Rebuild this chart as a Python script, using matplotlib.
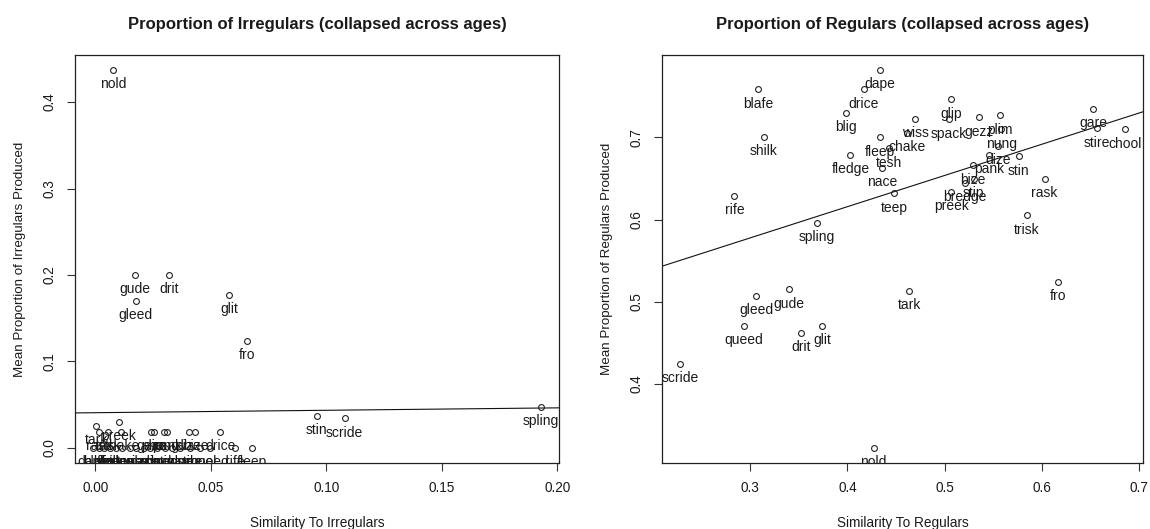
import matplotlib
matplotlib.use("Agg")
import matplotlib.pyplot as plt
from matplotlib.ticker import FormatStrFormatter

plt.rcParams['font.family'] = ['Liberation Sans', 'DejaVu Sans']

# ---------------- data ----------------
words = ["nold", "gude", "drit", "gleed", "glit", "fro", "stin", "scride", "spling",
         "tark", "preek",
         "rask", "trisk", "chake", "gezz", "plim", "nung", "pank", "dize", "bize", "drice",
         "rife", "fleep",
         "dape", "blafe", "blig", "shilk", "fledge", "teep", "tesh", "wiss", "nace",
         "glip", "spack", "stip", "bredge", "gare", "stire", "chool", "queed"]

irr_sim = [0.0077, 0.0172, 0.0318, 0.0176, 0.0580, 0.0658, 0.0959, 0.1080, 0.1930,
           0.0004, 0.0103,
           0.0017, 0.0056, 0.0112, 0.0241, 0.0254, 0.0297, 0.0310, 0.0404, 0.0434, 0.0542,
           0.0606, 0.0680,
           -0.0010, 0.0015, 0.0040, 0.0062, 0.0091, 0.0118, 0.0149, 0.0176, 0.0212,
           0.0238, 0.0269, 0.0301, 0.0333, 0.0368, 0.0409, 0.0452, 0.0497]
irr_prop = [0.437, 0.200, 0.200, 0.170, 0.177, 0.124, 0.037, 0.034, 0.0475,
            0.0255, 0.030,
            0.0185, 0.0185, 0.0185, 0.0185, 0.0185, 0.0185, 0.0185, 0.0185, 0.0185, 0.0185,
            0.0, 0.0,
            0.0, 0.0, 0.0, 0.0, 0.0, 0.0, 0.0, 0.0, 0.0,
            0.0, 0.0, 0.0, 0.0, 0.0, 0.0, 0.0, 0.0]

reg_sim = [0.427, 0.340, 0.352, 0.306, 0.374, 0.617, 0.5764, 0.2273, 0.3686,
           0.4638, 0.5068,
           0.603, 0.5846, 0.4617, 0.5354, 0.557, 0.5583, 0.5456, 0.5549, 0.529, 0.4167,
           0.2836, 0.433,
           0.433, 0.308, 0.398, 0.314, 0.403, 0.448, 0.443, 0.470, 0.436,
           0.5068, 0.5047, 0.530, 0.521, 0.653, 0.657, 0.686, 0.293]
reg_prop = [0.322, 0.515, 0.462, 0.507, 0.471, 0.524, 0.677, 0.424, 0.596,
            0.513, 0.634,
            0.650, 0.605, 0.706, 0.7244, 0.727, 0.710, 0.679, 0.690, 0.666, 0.7585,
            0.629, 0.700,
            0.782, 0.7585, 0.730, 0.701, 0.679, 0.632, 0.6866, 0.723, 0.663,
            0.7463, 0.722, 0.650, 0.645, 0.735, 0.711, 0.710, 0.471]

# fitted regression lines (intercept, slope)
irr_fit = (0.0407, 0.028)
reg_fit = (0.4639, 0.3796)

irr_xticks = [0.00, 0.05, 0.10, 0.15, 0.20]
irr_yticks = [0.0, 0.1, 0.2, 0.3, 0.4]
reg_xticks = [0.3, 0.4, 0.5, 0.6, 0.7]
reg_yticks = [0.4, 0.5, 0.6, 0.7]

# ---------------- figure ----------------
W, H = 1150, 529
fig = plt.figure(figsize=(W / 100, H / 100), dpi=100)
ax1 = fig.add_axes([75 / W, 1 - 463 / H, 484 / W, 408 / H])
ax2 = fig.add_axes([662 / W, 1 - 463 / H, 481 / W, 408 / H])

TXT = '#1a1a1a'


def panel(ax, xs, ys, fit, xticks, yticks, xfmt, yfmt, title, xlabel, ylabel):
    # R-style 4% padding
    xr = max(xs) - min(xs)
    yr = max(ys) - min(ys)
    ax.set_xlim(min(xs) - 0.04 * xr, max(xs) + 0.04 * xr)
    ax.set_ylim(min(ys) - 0.04 * yr, max(ys) + 0.04 * yr)
    ax.plot(xs, ys, 'o', ms=4.2, mfc='none', mec='#222222', mew=0.8, zorder=3)
    for w, x, y in zip(words, xs, ys):
        ax.annotate(w, (x, y), xytext=(0, -5.3), textcoords='offset points',
                    ha='center', va='top', fontsize=10, color=TXT,
                    clip_on=True, annotation_clip=False)
    ax.axline((0, fit[0]), slope=fit[1], color='#111111', lw=0.8)
    ax.set_xticks(xticks)
    ax.set_yticks(yticks)
    ax.xaxis.set_major_formatter(FormatStrFormatter(xfmt))
    ax.yaxis.set_major_formatter(FormatStrFormatter(yfmt))
    ax.tick_params(direction='out', length=6, width=0.8, color='#333333',
                   labelsize=9.8, labelcolor=TXT, pad=7)
    for lab in ax.get_yticklabels():
        lab.set_rotation(90)
        lab.set_va('center')
    for s in ax.spines.values():
        s.set_linewidth(0.9)
        s.set_color('#222222')
    ax.set_title(title, fontsize=12, fontweight='bold', color=TXT, pad=19)
    ax.set_xlabel(xlabel, fontsize=9.8, color=TXT, labelpad=15)
    ax.set_ylabel(ylabel, fontsize=9.6, color=TXT, labelpad=12)


panel(ax1, irr_sim, irr_prop, irr_fit, irr_xticks, irr_yticks, '%.2f', '%.1f',
      'Proportion of Irregulars (collapsed across ages)',
      'Similarity To Irregulars', 'Mean Proportion of Irregulars Produced')
panel(ax2, reg_sim, reg_prop, reg_fit, reg_xticks, reg_yticks, '%.1f', '%.1f',
      'Proportion of Regulars (collapsed across ages)',
      'Similarity To Regulars', 'Mean Proportion of Regulars Produced')

fig.savefig('out.png', dpi=100, facecolor='white')
